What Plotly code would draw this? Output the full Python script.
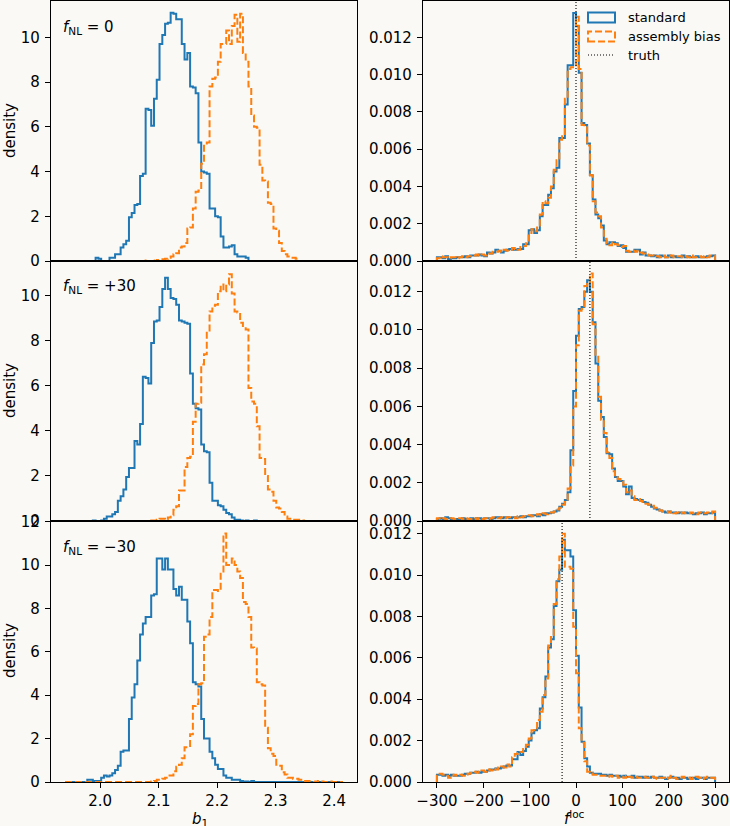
import numpy as np
import plotly.graph_objects as go
from plotly.subplots import make_subplots

# ==================== data ====================
# b1 histograms: same bin width everywhere, first left edge per series
b1_bin_width = 0.00475
b1_std_lo = [1.94, 1.9685, 1.94]
b1_ab_lo = [1.94, 2.08725, 1.94]

b1_std_0 = [0, 0, 0, 0, 0, 0, 0, 0, 0, 0, 0,
            0.15, 0.1, 0, 0, 0, 0.15, 0.15, 0.3, 0.3, 0.6, 0.75, 0.9,
            1.95, 2.15, 2.5, 2.55, 3.8, 3.9, 6.8, 6.75, 6.05, 7.25, 8.1, 9.7, 10.1, 10.6, 10.65,
            11.1, 11.05, 10.8, 10.8, 9.7, 9.0, 9.3, 7.8, 7.75, 7.5, 5.3, 4.0, 3.95, 3.9, 2.35,
            2.35, 2.0, 1.95, 1.1, 0.6, 0.6, 0.65, 0.7, 0.3, 0.2, 0.2, 0.2, 0.15,
            0, 0, 0, 0, 0, 0, 0, 0, 0, 0, 0, 0, 0, 0, 0, 0, 0,
            0, 0, 0, 0, 0, 0, 0, 0, 0, 0, 0, 0, 0, 0, 0, 0, 0]
b1_ab_0 = [0, 0, 0, 0, 0, 0, 0, 0, 0, 0, 0, 0, 0, 0, 0, 0, 0,
           0, 0, 0, 0, 0, 0, 0, 0, 0, 0, 0, 0.02, 0, 0, 0.02, 0,
           0.05, 0.08, 0.08, 0.1, 0.15, 0.2, 0.3, 0.35, 0.6, 0.65, 0.8, 1.45, 1.5, 2.35, 3.1,
           3.15, 4.35, 5.2, 5.3, 7.8, 8.15, 8.2, 8.9, 9.7, 9.7, 10.3, 9.7, 10.5, 11.0, 9.8,
           11.05, 9.3, 8.9, 7.8, 6.5, 6.0, 5.95, 4.3, 3.6, 3.55, 2.6, 2.55, 1.45, 1.35, 0.8,
           0.45, 0.3, 0.2, 0.15, 0.15, 0.1,
           0, 0, 0, 0, 0, 0, 0, 0, 0, 0, 0, 0, 0, 0, 0, 0]

b1_std_30 = [0, 0, 0, 0, 0.02, 0, 0, 0.02,
             0.1, 0.2, 0.2, 0.3, 0.4, 0.9, 1.1, 1.4, 1.95, 2.35, 2.35, 3.55, 3.4, 4.3, 6.4,
             6.35, 6.1, 7.9, 8.85, 8.9, 9.5, 10.3, 10.8, 10.3, 9.9, 9.85, 9.6, 8.9, 8.85, 8.8,
             8.75, 6.55, 5.2, 5.0, 4.95, 3.4, 3.1, 3.05, 1.7, 0.9, 0.9, 0.7, 0.65, 0.5, 0.35,
             0.3, 0.15, 0.05, 0.05, 0.02, 0, 0.02, 0, 0, 0.02, 0, 0]
b1_ab_30 = [0.02, 0.02, 0.05, 0.1, 0.1, 0.05, 0.15, 0.25, 0.5, 0.65, 1.35, 1.35, 2.4, 2.8,
            2.85, 4.4, 5.2, 5.25, 6.95, 7.4, 8.4, 9.3, 9.55, 9.6, 10.2, 10.5, 10.2, 10.5,
            10.95, 10.1, 9.3, 9.25, 8.8, 8.6, 8.5, 5.9, 5.3, 5.2, 4.2, 2.8, 2.75, 2.0, 1.4,
            1.3, 0.9, 0.6, 0.55, 0.4, 0.2, 0.1, 0.1, 0.05, 0.05, 0.05, 0.02]

b1_std_m30 = [0, 0, 0, 0, 0, 0, 0, 0,
              0.1, 0.1, 0.05, 0.05, 0.05, 0.2, 0.3, 0.25, 0.3, 0.4, 0.55, 0.75, 1.4, 1.45,
              1.45, 2.9, 3.9, 4.5, 5.6, 6.8, 7.3, 7.6, 7.6, 8.6, 8.65, 10.3, 10.3, 9.8, 10.3,
              9.8, 9.8, 8.9, 8.6, 9.0, 8.4, 8.4, 7.4, 6.4, 4.6, 4.5, 4.4, 2.9, 2.0, 2.0, 1.4,
              1.1, 0.8, 0.6, 0.6, 0.3, 0.2, 0.2, 0.1, 0.1, 0.1, 0.05, 0.02, 0.02, 0, 0.05,
              0, 0, 0, 0, 0, 0, 0, 0, 0, 0, 0, 0, 0, 0, 0, 0,
              0, 0, 0, 0, 0, 0, 0, 0, 0, 0, 0, 0, 0, 0, 0, 0]
b1_ab_m30 = [0, 0, 0, 0, 0, 0, 0, 0, 0, 0, 0, 0, 0, 0, 0, 0,
             0, 0, 0, 0, 0, 0, 0, 0, 0, 0, 0, 0, 0, 0, 0,
             0.02, 0.05, 0.1, 0.1, 0.15, 0.2, 0.3, 0.3, 0.5, 0.7, 0.8, 1.1, 1.6, 1.6, 2.2,
             3.5, 3.6, 4.5, 4.55, 6.7, 6.8, 7.6, 8.85, 8.85, 8.8, 9.6, 11.45, 10.0, 10.1,
             10.3, 10.0, 9.7, 9.4, 8.3, 8.2, 7.6, 6.2, 6.15, 4.6, 4.5, 4.45, 2.5, 1.55, 1.3,
             1.2, 0.8, 0.75, 0.45, 0.35, 0.2, 0.2, 0.15, 0.15, 0.1, 0.05, 0.05, 0.05, 0.02,
             0, 0.02, 0.05, 0.02, 0, 0, 0.02, 0, 0, 0, 0]

# f_NL histograms: 100 bins over [-300, 300], densities in units of 1e-3
fnl_lo, fnl_hi = -300, 300
fnl_std_0 = [0.2, 0.2, 0.15, 0.25, 0.1, 0.15, 0.15, 0.2, 0.2, 0.2,
             0.25, 0.2, 0.3, 0.3, 0.3, 0.35, 0.3, 0.25, 0.45, 0.4,
             0.45, 0.6, 0.55, 0.45, 0.55, 0.6, 0.65, 0.6, 0.6, 0.65,
             0.65, 0.9, 0.9, 1.65, 1.7, 1.5, 1.65, 2.4, 3.0, 3.0,
             3.55, 3.9, 4.8, 5.0, 6.6, 6.6, 8.4, 10.5, 10.5, 13.3,
             12.6, 10.1, 7.4, 7.3, 6.3, 4.6, 3.3, 2.5, 2.3, 1.9,
             1.1, 0.9, 1.0, 1.0, 0.95, 0.8, 0.85, 0.7, 0.5, 0.5,
             0.5, 0.6, 0.6, 0.35, 0.45, 0.3, 0.3, 0.25, 0.3, 0.2,
             0.3, 0.25, 0.2, 0.3, 0.2, 0.25, 0.2, 0.2, 0.3, 0.2,
             0.25, 0.2, 0.2, 0.25, 0.2, 0.2, 0.2, 0.25, 0.25, 0.3]
fnl_ab_0 = [0.15, 0.25, 0.2, 0.2, 0.15, 0.2, 0.2, 0.15, 0.2, 0.25,
            0.2, 0.25, 0.25, 0.3, 0.35, 0.3, 0.35, 0.3, 0.4, 0.4,
            0.5, 0.5, 0.55, 0.5, 0.6, 0.55, 0.6, 0.7, 0.65, 0.6,
            0.75, 0.8, 0.95, 1.5, 1.7, 1.6, 1.9, 2.5, 3.2, 3.1,
            3.4, 4.0, 4.9, 5.4, 6.5, 6.7, 8.7, 10.3, 10.4, 10.4,
            13.1, 10.3, 7.3, 7.2, 6.2, 4.6, 3.2, 2.6, 2.4, 1.8,
            1.2, 0.95, 0.85, 1.0, 0.9, 0.85, 0.75, 0.8, 0.55, 0.5,
            0.55, 0.5, 0.55, 0.45, 0.4, 0.35, 0.3, 0.3, 0.25, 0.25,
            0.2, 0.3, 0.2, 0.25, 0.3, 0.2, 0.25, 0.25, 0.2, 0.25,
            0.2, 0.3, 0.2, 0.2, 0.25, 0.2, 0.25, 0.2, 0.3, 0.3]

fnl_std_30 = [0.1, 0.15, 0.1, 0.2, 0.15, 0.1, 0.05, 0.1, 0.1, 0.15,
              0.1, 0.1, 0.15, 0.1, 0.15, 0.15, 0.1, 0.15, 0.15, 0.1,
              0.15, 0.2, 0.2, 0.15, 0.2, 0.2, 0.15, 0.2, 0.2, 0.2,
              0.25, 0.2, 0.25, 0.25, 0.3, 0.3, 0.25, 0.35, 0.3, 0.4,
              0.4, 0.45, 0.5, 0.55, 0.75, 0.9, 1.1, 1.5, 3.7, 6.8,
              9.7, 11.1, 11.2, 12.0, 12.6, 12.0, 10.4, 8.25, 6.3, 5.45,
              4.4, 3.55, 3.5, 2.75, 2.3, 2.1, 2.1, 1.8, 1.4, 1.8,
              1.2, 1.15, 1.1, 1.1, 1.0, 0.95, 0.85, 0.75, 0.65, 0.6,
              0.55, 0.5, 0.45, 0.5, 0.45, 0.45, 0.4, 0.45, 0.4, 0.45,
              0.4, 0.4, 0.35, 0.4, 0.4, 0.45, 0.35, 0.4, 0.4, 0.45]
fnl_ab_30 = [0.15, 0.1, 0.15, 0.1, 0.1, 0.15, 0.1, 0.1, 0.15, 0.1,
             0.15, 0.1, 0.1, 0.15, 0.1, 0.15, 0.1, 0.15, 0.1, 0.15,
             0.2, 0.15, 0.15, 0.2, 0.15, 0.2, 0.2, 0.2, 0.15, 0.25,
             0.2, 0.25, 0.25, 0.3, 0.25, 0.3, 0.35, 0.3, 0.4, 0.35,
             0.45, 0.45, 0.5, 0.6, 0.7, 0.85, 1.0, 1.7, 2.9, 6.0,
             9.2, 11.0, 11.1, 12.3, 12.4, 12.96, 10.3, 8.7, 6.5, 5.3,
             4.6, 3.6, 3.3, 2.6, 2.4, 2.2, 2.1, 1.9, 1.5, 1.6,
             1.3, 1.1, 1.15, 1.05, 1.0, 0.9, 0.85, 0.8, 0.7, 0.6,
             0.55, 0.5, 0.5, 0.45, 0.5, 0.4, 0.45, 0.4, 0.45, 0.4,
             0.4, 0.45, 0.4, 0.35, 0.45, 0.4, 0.4, 0.45, 0.4, 0.5]

fnl_std_m30 = [0.35, 0.35, 0.3, 0.35, 0.3, 0.35, 0.3, 0.3, 0.3, 0.35,
               0.4, 0.4, 0.45, 0.45, 0.5, 0.45, 0.5, 0.5, 0.55, 0.6,
               0.6, 0.65, 0.65, 0.7, 0.75, 0.8, 0.8, 1.1, 1.1, 1.45,
               1.3, 1.5, 1.7, 2.0, 2.35, 2.5, 2.6, 3.55, 4.1, 5.1,
               6.5, 6.9, 8.5, 9.7, 10.25, 11.7, 11.2, 11.2, 10.9, 8.3,
               6.1, 3.6, 1.95, 1.15, 0.75, 0.45, 0.4, 0.4, 0.4, 0.35,
               0.35, 0.3, 0.35, 0.3, 0.3, 0.3, 0.25, 0.3, 0.25, 0.25,
               0.3, 0.2, 0.25, 0.25, 0.2, 0.25, 0.2, 0.25, 0.2, 0.2,
               0.25, 0.2, 0.15, 0.2, 0.25, 0.2, 0.2, 0.15, 0.2, 0.2,
               0.15, 0.2, 0.2, 0.15, 0.2, 0.2, 0.15, 0.2, 0.2, 0.2]
fnl_ab_m30 = [0.3, 0.4, 0.35, 0.3, 0.2, 0.3, 0.35, 0.3, 0.35, 0.3,
              0.35, 0.4, 0.45, 0.5, 0.45, 0.5, 0.55, 0.5, 0.6, 0.55,
              0.65, 0.6, 0.7, 0.75, 0.7, 0.85, 0.75, 1.2, 1.35, 1.4,
              1.45, 1.6, 1.8, 2.1, 2.5, 2.6, 3.0, 3.4, 4.2, 5.0,
              6.6, 7.1, 8.6, 9.8, 10.9, 12.0, 10.4, 10.4, 10.3, 7.5,
              5.25, 2.6, 1.9, 1.0, 0.5, 0.45, 0.35, 0.35, 0.3, 0.3,
              0.3, 0.25, 0.3, 0.25, 0.3, 0.2, 0.25, 0.2, 0.3, 0.25,
              0.2, 0.25, 0.2, 0.2, 0.25, 0.2, 0.2, 0.25, 0.2, 0.15,
              0.2, 0.2, 0.15, 0.2, 0.3, 0.2, 0.15, 0.2, 0.25, 0.2,
              0.2, 0.15, 0.2, 0.25, 0.2, 0.15, 0.2, 0.25, 0.2, 0.2]

fnl_truth = [0, 30, -30]
panel_labels = ["0", "+30", "\u221230"]
series_names = ["standard", "assembly bias", "truth"]

b1_std = [b1_std_0, b1_std_30, b1_std_m30]
b1_ab = [b1_ab_0, b1_ab_30, b1_ab_m30]
fnl_std = [fnl_std_0, fnl_std_30, fnl_std_m30]
fnl_ab = [fnl_ab_0, fnl_ab_30, fnl_ab_m30]

# ==================== figure ====================
W, H = 730, 826
BG = "#faf9f5"
BLUE = "#1f77b4"
ORANGE = "#ff7f0e"
FONT = "DejaVu Sans"


def step_xy(lo, width, vals):
    # outline of a step histogram (matplotlib histtype='step')
    edges = lo + width * np.arange(len(vals) + 1)
    x = [edges[0]] + list(edges[:-1]) + [edges[-1]]
    y = [0] + list(vals) + [0]
    return x, y


def px(x):
    return x / W


def py(y):
    return 1 - y / H


fig = make_subplots(rows=3, cols=2)

fnl_w = (fnl_hi - fnl_lo) / len(fnl_std_0)
for r in range(3):
    x, y = step_xy(b1_std_lo[r], b1_bin_width, b1_std[r])
    fig.add_trace(go.Scatter(x=x, y=y, mode="lines", line_shape="hv",
                             line=dict(color=BLUE, width=2)), row=r + 1, col=1)
    x, y = step_xy(b1_ab_lo[r], b1_bin_width, b1_ab[r])
    fig.add_trace(go.Scatter(x=x, y=y, mode="lines", line_shape="hv",
                             line=dict(color=ORANGE, width=2, dash="7px,3px")), row=r + 1, col=1)
    x, y = step_xy(fnl_lo, fnl_w, np.array(fnl_std[r]) * 1e-3)
    fig.add_trace(go.Scatter(x=x, y=y, mode="lines", line_shape="hv",
                             line=dict(color=BLUE, width=2)), row=r + 1, col=2)
    x, y = step_xy(fnl_lo, fnl_w, np.array(fnl_ab[r]) * 1e-3)
    fig.add_trace(go.Scatter(x=x, y=y, mode="lines", line_shape="hv",
                             line=dict(color=ORANGE, width=2, dash="7px,3px")), row=r + 1, col=2)
    fig.add_vline(x=fnl_truth[r], line=dict(color="black", width=1.1, dash="1px,2px"),
                  row=r + 1, col=2)

# panel geometry (pixels of the original figure)
col_dom = [[px(51), px(357)], [px(423), px(729)]]
row_dom = [[py(261), py(1)], [py(521), py(261)], [py(782), py(521)]]
b1_ymax = [11.62, 11.54, 12.03]
fnl_ymax = [0.01395, 0.01361, 0.01261]

axis_common = dict(showline=True, mirror=True, linecolor="black", linewidth=1.2,
                   showgrid=False, zeroline=False, ticks="outside", ticklen=5,
                   tickwidth=1.1, tickcolor="black", automargin=False,
                   tickfont=dict(size=15, color="black"))

for r in range(3):
    last = r == 2
    fig.update_xaxes(axis_common, domain=col_dom[0], range=[1.916, 2.439],
                     tickvals=[2.0, 2.1, 2.2, 2.3, 2.4], tickformat=".1f",
                     showticklabels=last, ticks="outside" if last else "",
                     row=r + 1, col=1)
    fig.update_xaxes(axis_common, domain=col_dom[1], range=[-330, 330],
                     tickvals=[-300, -200, -100, 0, 100, 200, 300],
                     showticklabels=last, ticks="outside" if last else "",
                     row=r + 1, col=2)
    fig.update_yaxes(axis_common, domain=row_dom[r], range=[0, b1_ymax[r]],
                     dtick=2, tick0=0, ticklabelstandoff=2, row=r + 1, col=1)
    fig.update_yaxes(axis_common, domain=row_dom[r], range=[0, fnl_ymax[r]],
                     dtick=0.002, tick0=0, tickformat=".3f", ticklabelstandoff=2,
                     row=r + 1, col=2)

annotations = []
row_top = [1, 261, 521]
for r in range(3):
    annotations.append(dict(x=px(61), y=py(row_top[r] + 26), xref="paper", yref="paper",
                            xanchor="left", yanchor="middle", showarrow=False,
                            text="<i>f</i><sub>NL</sub> = " + panel_labels[r],
                            font=dict(size=15)))
    annotations.append(dict(x=px(10), y=py(row_top[r] + 130), xref="paper", yref="paper",
                            xanchor="center", yanchor="middle", showarrow=False,
                            text="density", textangle=-90, font=dict(size=15)))

# axis titles
annotations.append(dict(x=px(200), y=py(808), xref="paper", yref="paper", xanchor="center",
                        yanchor="top", showarrow=False, text="<i>b</i><sub>1</sub>",
                        font=dict(size=15)))
annotations.append(dict(x=px(562), y=py(806), xref="paper", yref="paper", xanchor="left",
                        yanchor="top", showarrow=False, text="<i>f</i><sup>loc</sup>",
                        font=dict(size=15)))
annotations.append(dict(x=px(570), y=py(822), xref="paper", yref="paper", xanchor="left",
                        yanchor="top", showarrow=False, text="NL", font=dict(size=11)))

# legend (matplotlib style patches)
leg_y = [17.5, 36.5, 55]
shapes = [
    dict(type="rect", xref="paper", yref="paper", x0=px(588), x1=px(615),
         y0=py(leg_y[0] + 5), y1=py(leg_y[0] - 5), line=dict(color=BLUE, width=2)),
    dict(type="rect", xref="paper", yref="paper", x0=px(588), x1=px(615),
         y0=py(leg_y[1] + 5), y1=py(leg_y[1] - 5), line=dict(color=ORANGE, width=2, dash="7px,3px")),
    dict(type="line", xref="paper", yref="paper", x0=px(588), x1=px(615),
         y0=py(leg_y[2]), y1=py(leg_y[2]), line=dict(color="black", width=1.1, dash="1px,2px")),
]
for i, name in enumerate(series_names):
    annotations.append(dict(x=px(626), y=py(leg_y[i]), xref="paper", yref="paper",
                            xanchor="left", yanchor="middle", showarrow=False,
                            text=name, font=dict(size=13)))

fig.update_layout(
    width=W, height=H,
    margin=dict(l=0, r=0, t=0, b=0, pad=0),
    paper_bgcolor=BG, plot_bgcolor=BG,
    font=dict(family=FONT, size=15, color="black"),
    showlegend=False,
    annotations=annotations,
)
for s in shapes:
    fig.add_shape(s)

# the page's default body margin would shift the figure; drop it
fig.write_html("out.html", config={"displayModeBar": False},
               post_script="document.body.style.margin='0px';")
